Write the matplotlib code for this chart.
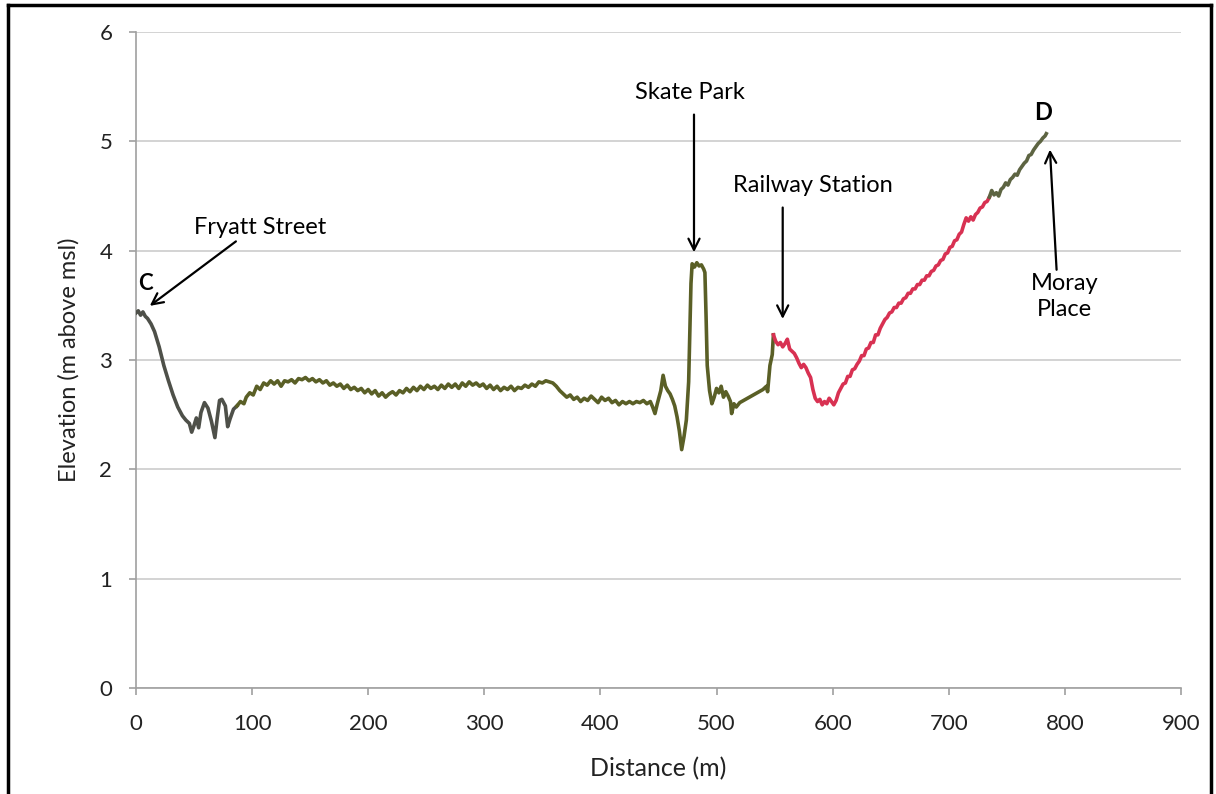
import matplotlib.pyplot as plt
from matplotlib.lines import Line2D

# elevation profile C -> D, split into coloured sections
dist_grey = [0, 2, 4, 6, 8, 10, 13, 16, 20, 24, 28, 32, 36, 40, 43, 46, 48, 50, 52, 54,
             56, 59, 62, 65, 68, 70, 72, 74, 77, 79, 81, 84, 87]
elev_grey = [3.43, 3.45, 3.41, 3.44, 3.40, 3.38, 3.33, 3.26, 3.12, 2.95, 2.81, 2.68, 2.57, 2.49,
             2.45, 2.42, 2.34, 2.40, 2.47, 2.38, 2.52, 2.61, 2.56, 2.44, 2.29, 2.47, 2.63, 2.64,
             2.58, 2.39, 2.46, 2.55, 2.58]

dist_olive = [87, 90, 93, 95, 98, 101, 104, 107, 110, 113, 116, 119, 122, 125, 128, 131, 134,
              137, 140, 143, 146, 149, 152, 155, 158, 161, 164, 167, 170, 173, 176, 179, 182,
              185, 188, 191, 194, 197, 200, 203, 206, 209, 212, 215, 218, 221, 224, 227, 230,
              233, 236, 239, 242, 245, 248, 251, 254, 257, 260, 263, 266, 269, 272, 275, 278,
              281, 284, 287, 290, 293, 296, 299, 302, 305, 308, 311, 314, 317, 320, 323, 326,
              329, 332, 335, 338, 341, 344, 347, 350, 353, 356, 359, 362, 365, 368, 371, 374,
              377, 380, 383, 386, 389, 392, 395, 398, 401, 404, 407, 410, 413, 416, 419, 422,
              425, 428, 431, 434, 437, 440, 443, 445, 447, 449, 452, 454, 456, 458, 460, 462,
              464, 466, 468, 470, 472, 474, 476, 478, 479, 481, 483, 485, 487, 489, 490, 491,
              492, 494, 496, 498, 500, 502, 504, 506, 508, 510, 512, 513, 515, 517, 520, 525,
              530, 535, 540, 543, 544, 546, 548, 549]
elev_olive = [2.58, 2.62, 2.60, 2.66, 2.70, 2.68, 2.76, 2.73, 2.79, 2.77, 2.81, 2.78, 2.81,
              2.76, 2.81, 2.80, 2.82, 2.79, 2.83, 2.82, 2.84, 2.81, 2.83, 2.80, 2.82, 2.79,
              2.81, 2.77, 2.79, 2.76, 2.78, 2.74, 2.77, 2.73, 2.75, 2.72, 2.74, 2.70, 2.73,
              2.69, 2.72, 2.67, 2.70, 2.66, 2.69, 2.71, 2.68, 2.72, 2.70, 2.74, 2.71, 2.75,
              2.72, 2.76, 2.73, 2.77, 2.74, 2.76, 2.73, 2.77, 2.74, 2.78, 2.75, 2.78, 2.74,
              2.79, 2.76, 2.80, 2.77, 2.79, 2.76, 2.78, 2.74, 2.77, 2.73, 2.76, 2.72, 2.75,
              2.73, 2.76, 2.72, 2.75, 2.74, 2.77, 2.75, 2.78, 2.76, 2.80, 2.79, 2.81, 2.80,
              2.79, 2.76, 2.72, 2.69, 2.66, 2.68, 2.64, 2.66, 2.62, 2.65, 2.63, 2.67, 2.64,
              2.61, 2.66, 2.63, 2.65, 2.61, 2.63, 2.59, 2.62, 2.60, 2.62, 2.60, 2.62, 2.61,
              2.63, 2.60, 2.62, 2.57, 2.51, 2.60, 2.72, 2.86, 2.76, 2.72, 2.69, 2.64, 2.58,
              2.48, 2.35, 2.18, 2.30, 2.45, 2.80, 3.70, 3.88, 3.85, 3.89, 3.86, 3.87, 3.83,
              3.80, 3.40, 2.95, 2.72, 2.60, 2.66, 2.74, 2.70, 2.76, 2.66, 2.71, 2.67, 2.62,
              2.51, 2.60, 2.57, 2.61, 2.64, 2.67, 2.70, 2.73, 2.76, 2.71, 2.95, 3.05, 3.23]

dist_red = [549, 551, 553, 555, 557, 559, 561, 563, 565, 567, 569, 571, 573, 575, 577, 579,
            581, 583, 585, 587, 589, 591, 593, 595, 597, 599, 601, 603, 605, 607, 609, 611,
            613, 615, 617, 619, 621, 623, 625, 627, 629, 631, 633, 635, 637, 639, 641, 643,
            645, 647, 649, 651, 653, 655, 657, 659, 661, 663, 665, 667, 669, 671, 673, 675,
            677, 679, 681, 683, 685, 687, 689, 691, 693, 695, 697, 699, 701, 703, 705, 707,
            709, 711, 713, 715, 717, 719, 721, 723, 725, 727, 729, 731, 733, 735]
elev_red = [3.23, 3.17, 3.14, 3.16, 3.12, 3.15, 3.19, 3.10, 3.08, 3.06, 3.02, 2.97, 2.93,
            2.96, 2.93, 2.88, 2.84, 2.73, 2.65, 2.62, 2.64, 2.59, 2.62, 2.60, 2.65, 2.62,
            2.59, 2.63, 2.70, 2.74, 2.78, 2.79, 2.85, 2.85, 2.91, 2.92, 2.96, 2.99, 3.04,
            3.04, 3.10, 3.11, 3.16, 3.16, 3.23, 3.23, 3.29, 3.33, 3.37, 3.39, 3.43, 3.44,
            3.48, 3.48, 3.52, 3.52, 3.56, 3.57, 3.61, 3.61, 3.65, 3.65, 3.69, 3.69, 3.73,
            3.73, 3.77, 3.77, 3.81, 3.82, 3.86, 3.87, 3.91, 3.92, 3.97, 3.98, 4.03, 4.04,
            4.09, 4.10, 4.15, 4.17, 4.24, 4.30, 4.27, 4.31, 4.28, 4.33, 4.35, 4.39, 4.40,
            4.44, 4.45, 4.49]

dist_end = [735, 737, 739, 741, 743, 745, 747, 749, 751, 753, 755, 757, 759, 761, 763, 765,
            767, 769, 771, 773, 775, 777, 779, 781, 783, 784]
elev_end = [4.49, 4.55, 4.51, 4.53, 4.50, 4.56, 4.58, 4.62, 4.60, 4.65, 4.67, 4.70, 4.69,
            4.74, 4.77, 4.80, 4.82, 4.87, 4.88, 4.92, 4.95, 4.98, 5.00, 5.03, 5.05, 5.07]

x_ticks = [0, 100, 200, 300, 400, 500, 600, 700, 800, 900]
y_ticks = [0, 1, 2, 3, 4, 5, 6]

plt.rcParams['font.family'] = ['Lato', 'DejaVu Sans']

fig = plt.figure(figsize=(12.16, 7.94), dpi=100)
ax = fig.add_axes([0.1118, 0.1335, 0.8594, 0.8262])

lw = 2.6
ax.plot(dist_grey, elev_grey, color='#4e5049', lw=lw, zorder=3)
ax.plot(dist_olive, elev_olive, color='#5a5f26', lw=lw, zorder=3)
ax.plot(dist_red, elev_red, color='#d83152', lw=lw, zorder=3)
ax.plot(dist_end, elev_end, color='#5d6442', lw=lw, zorder=3)

ax.set_xlim(0, 900)
ax.set_ylim(0, 6)
ax.set_xticks(x_ticks)
ax.set_yticks(y_ticks)
ax.yaxis.grid(True, color='#cccccc', lw=1.2)
ax.set_axisbelow(True)
for s in ['top', 'right']:
    ax.spines[s].set_visible(False)
for s in ['left', 'bottom']:
    ax.spines[s].set_color('#a0a0a0')
    ax.spines[s].set_linewidth(1.2)
ax.tick_params(axis='both', colors='#a0a0a0', length=5, width=1.2, labelsize=16,
               labelcolor='#222222')
ax.tick_params(axis='x', pad=14)
ax.tick_params(axis='y', pad=12)

ax.set_xlabel('Distance (m)', fontsize=18, color='#222222', labelpad=16)
ax.set_ylabel('Elevation (m above msl)', fontsize=17, color='#222222', labelpad=14)

arrow = dict(arrowstyle='->', color='black', lw=1.6, mutation_scale=20)
ax.text(8, 3.70, 'C', fontsize=16, fontweight='bold', ha='center', va='center')
ax.annotate('', xy=(10, 3.48), xytext=(88, 4.10), arrowprops=arrow)
ax.text(107, 4.21, 'Fryatt Street', fontsize=17, ha='center', va='center')
ax.text(477, 5.45, 'Skate Park', fontsize=17, ha='center', va='center')
ax.annotate('', xy=(480.6, 3.96), xytext=(480.6, 5.27), arrowprops=arrow)
ax.text(583, 4.60, 'Railway Station', fontsize=17, ha='center', va='center')
ax.annotate('', xy=(557, 3.35), xytext=(557, 4.42), arrowprops=arrow)
ax.text(781, 5.26, 'D', fontsize=17, fontweight='bold', ha='center', va='center')
ax.annotate('', xy=(787, 4.95), xytext=(793, 3.80), arrowprops=arrow)
ax.text(800, 3.58, 'Moray\nPlace', fontsize=17, ha='center', va='center', linespacing=1.3)

# frame around the picture
W, H = 1216, 794
fig.add_artist(Line2D([8 / W, 8 / W], [0, 1 - 5 / H], color='black', lw=2.5))
fig.add_artist(Line2D([8 / W, 1211 / W], [1 - 5 / H, 1 - 5 / H], color='black', lw=2.5))
fig.add_artist(Line2D([1211 / W, 1211 / W], [0, 1 - 5 / H], color='black', lw=2.5))

fig.savefig('out.png', dpi=100)
